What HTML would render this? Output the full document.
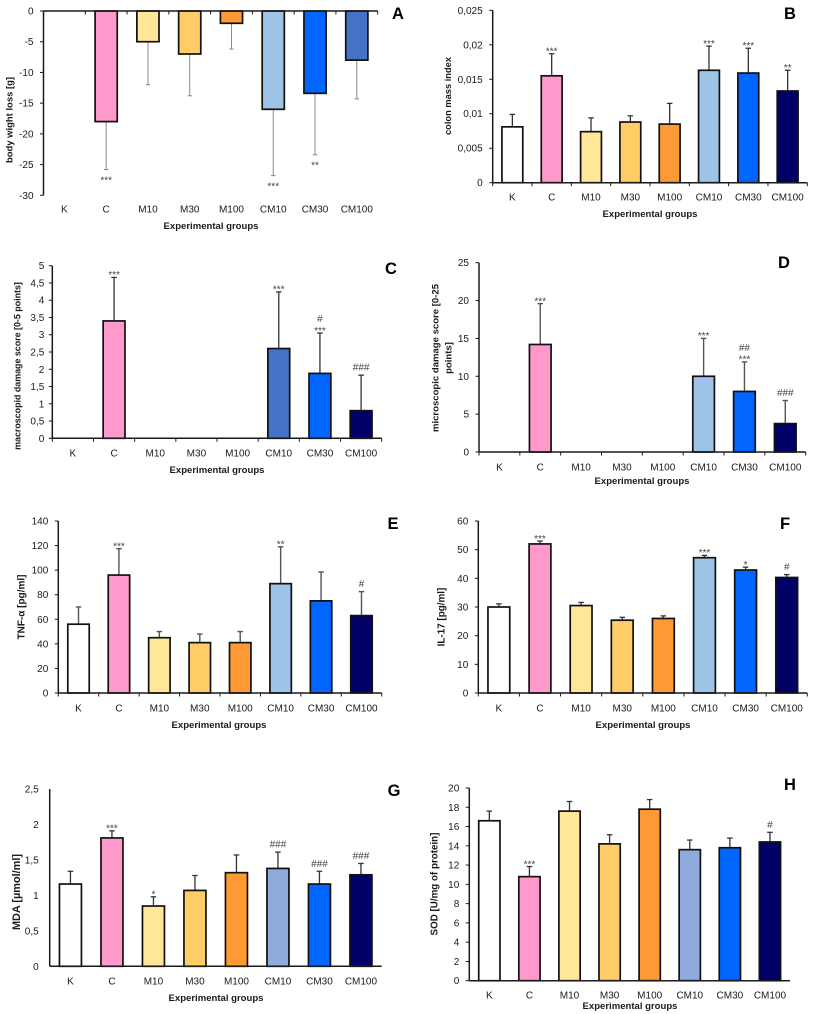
<!DOCTYPE html>
<html lang="en">
<head>
<meta charset="utf-8">
<title>Experimental groups bar charts</title>
<style>
html,body{margin:0;padding:0;background:#fff;}
svg{display:block;font-family:"Liberation Sans",sans-serif;filter:blur(0.3px);}
</style>
</head>
<body>
<svg id="figure" xmlns="http://www.w3.org/2000/svg" width="815" height="1014" viewBox="0 0 815 1014"></svg>
<script>
const categories = ['K','C','M10','M30','M100','CM10','CM30','CM100'];

const aValues = [0,-18,-5,-7,-2,-16,-13.4,-8];
const aErrors = [0,-25.8,-12,-13.8,-6.2,-26.8,-23.4,-14.3];
const aStars = ['','***','','','','***','**',''];
const aHashes = ['','','','','','','',''];
const aTicks = ['0','-5','-10','-15','-20','-25','-30'];

const bValues = [0.0081,0.0155,0.0074,0.0088,0.0085,0.0163,0.0159,0.0133];
const bErrors = [0.0099,0.0187,0.0094,0.0097,0.0115,0.0198,0.0195,0.0163];
const bStars = ['','***','','','','***','***','**'];
const bHashes = ['','','','','','','',''];
const bTicks = ['0','0,005','0,01','0,015','0,02','0,025'];

const cValues = [0,3.4,0,0,0,2.6,1.88,0.8];
const cErrors = [0,4.66,0,0,0,4.24,3.05,1.83];
const cStars = ['','***','','','','***','***',''];
const cHashes = ['','','','','','','#','###'];
const cTicks = ['0','0,5','1','1,5','2','2,5','3','3,5','4','4,5','5'];

const dValues = [0,14.2,0,0,0,10,8,3.75];
const dErrors = [0,19.6,0,0,0,15,11.9,6.8];
const dStars = ['','***','','','','***','***',''];
const dHashes = ['','','','','','','##','###'];
const dTicks = ['0','5','10','15','20','25'];

const eValues = [56,96,45,41,41,89,75,63];
const eErrors = [70,117.5,50,48,50,119,98.5,82.5];
const eStars = ['','***','','','','**','',''];
const eHashes = ['','','','','','','','#'];
const eTicks = ['0','20','40','60','80','100','120','140'];

const fValues = [30,52,30.5,25.4,26,47.2,42.9,40.3];
const fErrors = [31.1,53,31.6,26.4,26.9,48,43.9,41.3];
const fStars = ['','***','','','','***','*',''];
const fHashes = ['','','','','','','','#'];
const fTicks = ['0','10','20','30','40','50','60'];

const gValues = [1.16,1.81,0.85,1.07,1.32,1.38,1.16,1.29];
const gErrors = [1.34,1.91,0.98,1.28,1.57,1.61,1.34,1.45];
const gStars = ['','***','*','','','','',''];
const gHashes = ['','','','','','###','###','###'];
const gTicks = ['0','0,5','1','1,5','2','2,5'];

const hValues = [16.6,10.8,17.6,14.2,17.8,13.6,13.8,14.4];
const hErrors = [17.6,11.85,18.6,15.15,18.8,14.6,14.8,15.4];
const hStars = ['','***','','','','','',''];
const hHashes = ['','','','','','','','#'];
const hTicks = ['0','2','4','6','8','10','12','14','16','18','20'];

const basePalette = ['#ffffff','#ff99cc','#ffe699','#ffcc66','#ff9933','#9dc3e6','#0066ff','#000066'];
const paletteA = ['#ffffff','#ff99cc','#ffe699','#ffcc66','#ff9933','#9dc3e6','#0066ff','#4472c4'];
const paletteC = ['#ffffff','#ff99cc','#ffe699','#ffcc66','#ff9933','#4472c4','#0066ff','#000066'];
const paletteG = ['#ffffff','#ff99cc','#ffe699','#ffcc66','#ff9933','#8faadc','#0066ff','#000066'];

const panels = [
  {id:'a',letter:'A',values:aValues,errors:aErrors,stars:aStars,hashes:aHashes,ticks:aTicks,palette:paletteA,
   left:43.5,right:377.7,y0:11,yEnd:195.3,first:0,last:-30,xAxisY:11,catY:209,
   titleLines:['body wight loss [g]'],titleX:[10],titleY:120,titleSize:9.45,xLabelX:211,xLabelY:226,letterX:398,letterY:13,
   xTicks:true,yTicks:true,errColor:'#8a8a8a',errWidth:1,capWidth:4.5,tickGap:10},
  {id:'b',letter:'B',values:bValues,errors:bErrors,stars:bStars,hashes:bHashes,ticks:bTicks,palette:basePalette,
   left:492.7,right:807.3,y0:182.7,yEnd:10.3,first:0,last:0.025,xAxisY:182.7,catY:197,
   titleLines:['colon mass index'],titleX:[448],titleY:96,titleSize:9.3,xLabelX:650,xLabelY:214,letterX:790,letterY:13,
   xTicks:true,yTicks:true,errColor:'#333333',errWidth:1.3,capWidth:5.5,tickGap:10},
  {id:'c',letter:'C',values:cValues,errors:cErrors,stars:cStars,hashes:cHashes,ticks:cTicks,palette:paletteC,
   left:52.3,right:381.7,y0:438.3,yEnd:265.7,first:0,last:5,xAxisY:438.3,catY:453,
   titleLines:['macroscopid damage score [0-5 points]'],titleX:[17.5],titleY:366,titleSize:8.9,xLabelX:217,xLabelY:470,letterX:391,letterY:268,
   xTicks:true,yTicks:true,errColor:'#333333',errWidth:1.3,capWidth:5.5,tickGap:8},
  {id:'d',letter:'D',values:dValues,errors:dErrors,stars:dStars,hashes:dHashes,ticks:dTicks,palette:basePalette,
   left:479,right:805.7,y0:452,yEnd:262.7,first:0,last:25,xAxisY:452,catY:467,
   titleLines:['microscopic damage score [0-25','points]'],titleX:[436,449],titleY:358,titleSize:9.55,xLabelX:642,xLabelY:481,letterX:784,letterY:262,
   xTicks:true,yTicks:true,errColor:'#555555',errWidth:1.4,capWidth:5.5,tickGap:10},
  {id:'e',letter:'E',values:eValues,errors:eErrors,stars:eStars,hashes:eHashes,ticks:eTicks,palette:basePalette,
   left:58.3,right:381.7,y0:693,yEnd:521,first:0,last:140,xAxisY:693,catY:708,
   titleLines:['TNF-α [pg/ml]'],titleX:[22],titleY:607,titleSize:10,xLabelX:219,xLabelY:725,letterX:393,letterY:523,
   xTicks:true,yTicks:true,errColor:'#555555',errWidth:1.4,capWidth:5.5,tickGap:10},
  {id:'f',letter:'F',values:fValues,errors:fErrors,stars:fStars,hashes:fHashes,ticks:fTicks,palette:basePalette,
   left:478.3,right:807.3,y0:693,yEnd:521,first:0,last:60,xAxisY:693,catY:708,
   titleLines:['IL-17 [pg/ml]'],titleX:[442],titleY:617,titleSize:9.9,xLabelX:643,xLabelY:725,letterX:785,letterY:523,
   xTicks:true,yTicks:true,errColor:'#333333',errWidth:1.3,capWidth:5.5,tickGap:10},
  {id:'g',letter:'G',values:gValues,errors:gErrors,stars:gStars,hashes:gHashes,ticks:gTicks,palette:paletteG,
   left:49.7,right:381.7,y0:966.3,yEnd:789,first:0,last:2.5,xAxisY:966.3,catY:981,
   titleLines:['MDA [µmol/ml]'],titleX:[17],titleY:892,titleSize:10.9,xLabelX:216,xLabelY:998,letterX:394,letterY:790,
   xTicks:false,yTicks:false,errColor:'#333333',errWidth:1.3,capWidth:5.5,tickGap:11},
  {id:'h',letter:'H',values:hValues,errors:hErrors,stars:hStars,hashes:hHashes,ticks:hTicks,palette:paletteG,
   left:469.3,right:790,y0:980.7,yEnd:788,first:0,last:20,xAxisY:980.7,catY:995,
   titleLines:['SOD [U/mg of protein]'],titleX:[435],titleY:884,titleSize:9.8,xLabelX:630,xLabelY:1006,letterX:790,letterY:784,
   xTicks:false,yTicks:true,errColor:'#333333',errWidth:1.3,capWidth:5.5,tickGap:10}
];

const NS = 'http://www.w3.org/2000/svg';
const figure = document.getElementById('figure');
const INK = '#1a1a1a';

function make(parent, tag, props, content) {
  const el = document.createElementNS(NS, tag);
  Object.keys(props).forEach(function (k) { el.setAttribute(k, props[k]); });
  if (content !== undefined) el.textContent = content;
  parent.appendChild(el);
  return el;
}
function parseTick(label) { return parseFloat(label.replace(',', '.')); }
function yScale(p, v) { return p.y0 + (v - p.first) / (p.last - p.first) * (p.yEnd - p.y0); }
function catWidth(p) { return (p.right - p.left) / categories.length; }
function xCenter(p, i) { return p.left + catWidth(p) * (i + 0.5); }

panels.forEach(function (p) {
  const group = make(figure, 'g', {});
  
  

  const barW = catWidth(p) * 0.53;

  categories.forEach(function (cat, i) {
    const cx = xCenter(p, i);
    const yVal = yScale(p, p.values[i]);
    const yBase = p.xAxisY;
    const yErr = yScale(p, p.errors[i]);
    const below = p.values[i] < 0 || p.errors[i] < 0;

    if (p.errors[i] !== p.values[i]) {
      const stem = make(group, 'line', {x1:cx,x2:cx,y1:yVal,y2:yErr,stroke:p.errColor,'stroke-width':p.errWidth});
      
      
      const cap = make(group, 'line', {x1:cx-p.capWidth/2,x2:cx+p.capWidth/2,y1:yErr,y2:yErr,stroke:p.errColor,'stroke-width':p.errWidth});
      
      
    }

    const bar = make(group, 'rect', {
      x:cx-barW/2, y:Math.min(yVal,yBase), width:barW, height:Math.abs(yVal-yBase),
      fill:p.palette[i], stroke:'#111111', 'stroke-width':1.7
    });
    
    

    const starOffset = below ? 8 : -5;
    if (p.stars[i]) {
      const star = make(group, 'text', {x:cx,y:yErr+starOffset+5.8,'text-anchor':'middle','font-size':10,fill:'#444444'}, p.stars[i]);
      
      
    }
    if (p.hashes[i]) {
      const hashCenter = yErr - (p.stars[i] ? 14.5 : 8);
      const hash = make(group, 'text', {x:cx,y:hashCenter+3.5,'text-anchor':'middle','font-size':10,fill:'#444444'}, p.hashes[i]);
      
      
    }

    const label = make(group, 'text', {x:cx,y:p.catY+3.5,'text-anchor':'middle','font-size':10,fill:INK}, cat);
    
    
  });

  const xAxis = make(group, 'line', {x1:p.left,x2:p.right,y1:p.xAxisY,y2:p.xAxisY,stroke:INK,'stroke-width':1.5});
  
  

  const yAxis = make(group, 'line', {x1:p.left,x2:p.left,y1:p.y0,y2:p.yEnd,stroke:INK,'stroke-width':1.5});
  
  

  if (p.xTicks) {
    categories.concat(['end']).forEach(function (c, i) {
      const tx = p.left + catWidth(p) * i;
      const tick = make(group, 'line', {x1:tx,x2:tx,y1:p.xAxisY,y2:p.xAxisY+3.5,stroke:INK,'stroke-width':1});
      
      
    });
  }

  p.ticks.forEach(function (lab) {
    const ty = yScale(p, parseTick(lab));
    if (p.yTicks) {
      const tick = make(group, 'line', {x1:p.left-3.5,x2:p.left,y1:ty,y2:ty,stroke:INK,'stroke-width':1});
      
      
    }
    const text = make(group, 'text', {x:p.left-p.tickGap,y:ty+3.5,'text-anchor':'end','font-size':10,fill:INK}, lab);
    
    
  });

  p.titleLines.forEach(function (line, i) {
    const tx = p.titleX[i];
    const title = make(group, 'text', {
      x:tx, y:p.titleY, 'text-anchor':'middle', 'font-size':p.titleSize, 'font-weight':'bold', fill:INK,
      'dominant-baseline':'central', transform:'rotate(-90 ' + tx + ' ' + p.titleY + ')'
    }, line);
    
    
  });

  const xTitle = make(group, 'text', {
    x:p.xLabelX, y:p.xLabelY+3.2, 'text-anchor':'middle', 'font-size':9.55, 'font-weight':'bold', fill:INK
  }, 'Experimental groups');
  
  

  const letter = make(group, 'text', {
    x:p.letterX, y:p.letterY+6, 'text-anchor':'middle', 'font-size':16.5, 'font-weight':'bold', fill:'#000000'
  }, p.letter);
  
  
});
</script>
</body>
</html>
